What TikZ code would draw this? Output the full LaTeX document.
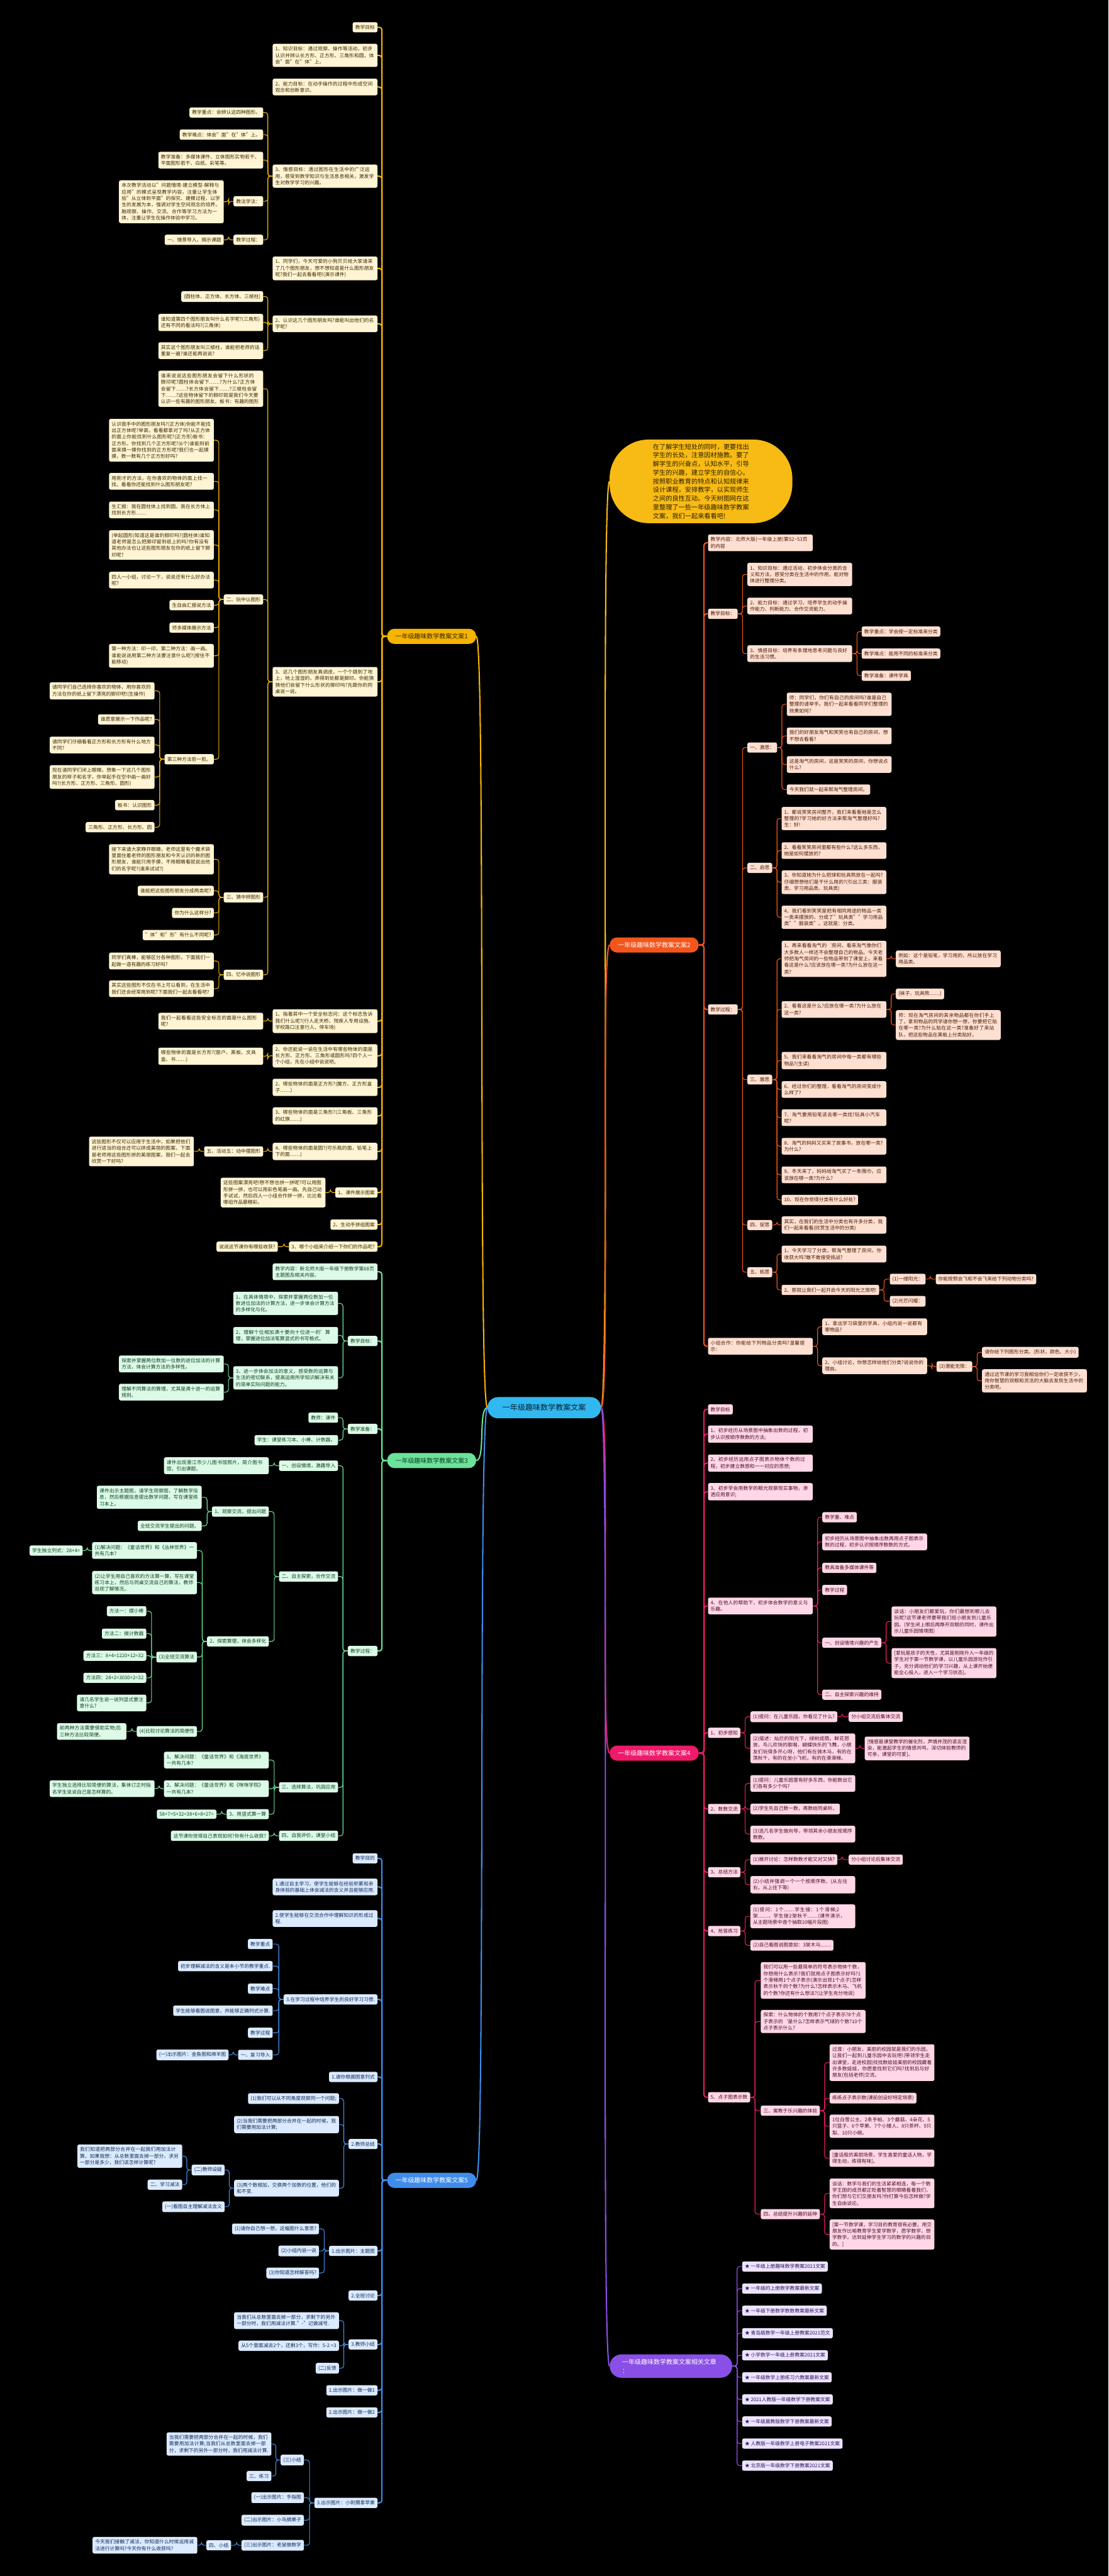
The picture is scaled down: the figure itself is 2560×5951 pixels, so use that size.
\documentclass[tikz,border=0pt]{standalone}
\usepackage{fontspec}
\setmainfont{Noto Sans CJK SC}
\newfontfamily\wmserif{Liberation Serif}
\XeTeXlinebreaklocale "zh"
\XeTeXlinebreakskip = 0pt plus 1pt
\newcommand\nfs{\fontsize{11.3}{15}\selectfont}
\newcommand\brfs{\fontsize{14.5}{20}\selectfont}
\newcommand\cfs{\fontsize{17.5}{22}\selectfont}
\newcommand\bubfs{\fontsize{14.8}{20}\selectfont}
\definecolor{yc}{HTML}{F5B400}\definecolor{yf}{HTML}{FFF4D4}\definecolor{yt}{HTML}{3A2800}
\definecolor{oc}{HTML}{F2561D}\definecolor{of}{HTML}{FEE0D2}\definecolor{ot}{HTML}{4A1A05}
\definecolor{gc}{HTML}{6BE39A}\definecolor{gf}{HTML}{DCFAE7}\definecolor{gt}{HTML}{0F4023}
\definecolor{pc}{HTML}{EE1A6A}\definecolor{pf}{HTML}{FFD7E6}\definecolor{pt}{HTML}{4A0C25}
\definecolor{uc}{HTML}{3F8CEB}\definecolor{uf}{HTML}{DBEAFE}\definecolor{ut}{HTML}{102A55}
\definecolor{vc}{HTML}{8A4FE6}\definecolor{vf}{HTML}{ECE3FC}\definecolor{vt}{HTML}{2E1460}
\definecolor{cf}{HTML}{32B8F0}\definecolor{ct}{HTML}{082433}
\definecolor{bub}{HTML}{F8BA14}\definecolor{bubt}{HTML}{2A1F00}
\tikzset{
 bxbase/.style={rounded corners=4pt, inner xsep=6pt, inner ysep=6.5pt, font=\nfs},
 bx/.style={bxbase},
 ml/.style={text width=230pt, align=left},
 lk/.style={line width=1.6pt, rounded corners=6pt},
 tk/.style={line width=3pt, rounded corners=6pt},
 brn/.style={rounded corners=17pt, minimum height=35pt, inner xsep=19pt, inner ysep=0pt, font=\brfs},
}
\newcommand\NL[4][]{\node[bx,anchor=east,#1] (#2) at (#3) {#4};}
\newcommand\NR[4][]{\node[bx,anchor=west,#1] (#2) at (#3) {#4};}
\newcommand\LK[2]{\foreach \kid in {#2}{\draw[lk] (#1.west) -- ++(-11,0) |- (\kid.east);}}
\newcommand\RK[2]{\foreach \kid in {#2}{\draw[lk] (#1.east) -- ++(11,0) |- (\kid.west);}}
\newcommand\LT[2]{\foreach \kid in {#2}{\draw[tk] (#1.west) -- ++(-12,0) |- (\kid.east);}}
\newcommand\RT[2]{\foreach \kid in {#2}{\draw[tk] (#1.east) -- ++(12,0) |- (\kid.west);}}
\begin{document}
\begin{tikzpicture}[x=1pt,y=-1pt]
\fill[black] (0,0) rectangle (2560,5951);
\useasboundingbox (0,0) rectangle (2560,5951);

% ---------- central and main branches
\node[rounded corners=24pt, fill=cf, text=ct, minimum height=49pt, minimum width=262pt, inner sep=0pt, font=\cfs] (C) at (1257,3252) {一年级趣味数学教案文案};
\node[fill=bub, text=bubt, rounded corners=90pt, minimum width=422pt, minimum height=193pt, inner sep=0pt, align=left, font=\bubfs] (I) at (1619,1112) {在了解学生短处的同时，更要找出\\学生的长处，注意因材施教。要了\\解学生的兴奋点，认知水平，引导\\学生的兴趣，建立学生的自信心。\\按照职业教育的特点和认知规律来\\设计课程，安排教学，以实现师生\\之间的良性互动。今天树图网在这\\里整理了一些一年级趣味数学教案\\文案，我们一起来看看吧!};
\node[brn, fill=yc, text=yt, anchor=west] (B1) at (894,1470) {一年级趣味数学教案文案1};
\node[brn, fill=oc, text=white, anchor=west] (B2) at (1408,2183) {一年级趣味数学教案文案2};
\node[brn, fill=gc, text=gt, anchor=west] (B3) at (894,3374) {一年级趣味数学教案文案3};
\node[brn, fill=pc, text=white, anchor=west] (B4) at (1408,4050) {一年级趣味数学教案文案4};
\node[brn, fill=uc, text=white, anchor=west] (B5) at (894,5037) {一年级趣味数学教案文案5};
\node[brn, fill=vc, text=white, anchor=west, rounded corners=27pt, minimum height=54pt, text width=225pt, inner xsep=29pt, align=left] (B6) at (1408,5466) {一年级趣味数学教案文案相关文章\\：};

\draw[line width=3pt, yc] (C.west) .. controls +(-22,0) and +(22,0) .. (B1.east);
\draw[line width=3pt, gc] (C.west) .. controls +(-22,0) and +(22,0) .. (B3.east);
\draw[line width=3pt, uc] (C.west) .. controls +(-22,0) and +(22,0) .. (B5.east);
\draw[line width=3pt, bub] (C.east) .. controls +(22,0) and +(-22,0) .. (I.west);
\draw[line width=3pt, oc] (C.east) .. controls +(22,0) and +(-22,0) .. (B2.west);
\draw[line width=3pt, pc] (C.east) .. controls +(22,0) and +(-22,0) .. (B4.west);
\draw[line width=3pt, vc] (C.east) .. controls +(22,0) and +(-22,0) .. (B6.west);

% ---------- branch 1 (yellow)
\begin{scope}[color=yc, bx/.style={bxbase, fill=yf, text=yt}]
\NL{A1}{872,63}{教学目标}
\NL[ml]{A2}{872,128}{1、知识目标：通过观察、操作等活动，初步认识并辨认长方形、正方形、三角形和圆，体会"面"在"体"上。}
\NL[ml]{A3}{872,201}{2、能力目标：在动手操作的过程中形成空间观念和创新意识。}
\NL[ml]{A4}{872,407}{3、情感目标：通过图形在生活中的广泛运用，感受到数学知识与生活息息相关，激发学生对数学学习的兴趣。}
\NL{A4a}{608,260}{教学重点：会辨认这四种图形。}
\NL{A4b}{608,311}{教学难点：体会"面"在"体"上。}
\NL[ml]{A4c}{608,370}{教学准备：多媒体课件、立体图形实物若干、平面图形若干、白纸、彩笔等。}
\NL{A4d}{608,465}{教法学法：}
\NL[ml]{A4d1}{517,466}{本次教学活动以"问题情境-建立模型-解释与应用"的模式呈现教学内容，注重让学生体验"从立体到平面"的探究、建模过程，以学生的发展为本，强调对学生空间观念的培养，融观察、操作、交流、合作等学习方法为一体，注重让学生在操作体验中学习。}
\NL{A4e}{608,554}{教学过程：}
\NL{A4e1}{517,554}{一、情景导入，揭示课题}
\NL[ml]{A5}{872,620}{1、同学们，今天可爱的小狗贝贝给大家请来了几个图形朋友，想不想知道是什么图形朋友呢?我们一起去看看吧!(演示课件)}
\NL[ml]{A6}{872,748}{2、认识这几个图形朋友吗?谁能叫出他们的名字呢?}
\NL{A6a}{608,685}{(圆柱体、正方体、长方体、三棱柱)}
\NL[ml]{A6b}{608,745}{谁知道第四个图形朋友叫什么名字呢?(三角形)还有不同的看法吗?(三角体)}
\NL[ml]{A6c}{608,810}{其实这个图形朋友叫三棱柱，谁能把老师的话重复一遍?谁还能再说说?}
\NL[ml]{A7}{872,1575}{3、这几个图形朋友真调皮，一个个跳到了地上，地上湿湿的，弄得到处都是脚印。你能猜猜他们会留下什么形状的脚印吗?先跟你的同桌说一说。}
\NL[ml]{A7a}{608,898}{谁来说说这些图形朋友会留下什么形状的脚印呢?圆柱体会留下……?为什么?正方体会留下……?长方体会留下……?三棱柱会留下……?这些物体留下的脚印就是我们今天要认识一些有趣的图形朋友。板书：有趣的图形}
\NL{A7b}{608,1385}{二、玩中认图形}
\NL[ml]{A7b1}{494,1017}{认识我手中的图形朋友吗?(正方体)你能不能找出正方体呢?举高，看看都拿对了吗?从正方体的面上你能找到什么图形呢?(正方形)板书：正方形。你找到几个正方形呢?(6个)谁能到前面来摸一摸你找到的正方形呢?我们也一起摸摸，数一数有几个正方形好吗?}
\NL[ml]{A7b2}{494,1112}{用刚才的方法，在你喜欢的物体的面上找一找，看看你还能找到什么图形朋友呢?}
\NL[ml]{A7b3}{494,1178}{生汇报：我在圆柱体上找到圆，我在长方体上找到长方形……}
\NL[ml]{A7b4}{494,1259}{(举起圆形)知道这是谁的脚印吗?(圆柱体)谁知道老师是怎么把脚印留到纸上的吗?你有没有其他办法也让这些图形朋友在你的纸上留下脚印呢?}
\NL[ml]{A7b5}{494,1340}{四人一小组，讨论一下，说说还有什么好办法呢?}
\NL{A7b6}{494,1398}{生自由汇报说方法}
\NL{A7b7}{494,1450}{师多媒体展示方法}
\NL[ml]{A7b8}{494,1515}{第一种方法：印一印，第二种方法：画一画。谁能说说用第二种方法要注意什么呢?(按住不能移动)}
\NL{A7b9}{494,1754}{第三种方法剪一剪。}
\NL[ml]{K1}{357,1596}{请同学们自己选择你喜欢的物体，用你喜欢的方法在你的纸上留下漂亮的脚印吧!(生操作)}
\NL{K2}{357,1662}{谁愿意展示一下作品呢?}
\NL[ml]{K3}{357,1721}{请同学们仔细看看正方形和长方形有什么地方不同?}
\NL[ml]{K4}{357,1795}{现在请同学们闭上眼睛，想象一下这几个图形朋友的样子和名字，你举起手在空中画一画好吗?(长方形、正方形、三角形、圆形)}
\NL{K5}{357,1860}{板书：认识图形}
\NL{K6}{357,1911}{三角形、正方形、长方形、圆}
\NL{A7c}{608,2073}{三、猜中辨图形}
\NL[ml]{A7c1}{494,1985}{接下来请大家睁开眼睛，老师这里有个魔术袋里面住着老师的图形朋友和今天认识的新的图形朋友，谁能只用手摸，不用眼睛看就说出他们的名字呢?(谁来试试?)}
\NL{A7c2}{494,2058}{谁能把这些图形朋友分成两类呢?}
\NL{A7c3}{494,2109}{你为什么这样分?}
\NL{A7c4}{494,2160}{"体"和"形"有什么不同呢?}
\NL{A7d}{608,2252}{四、忆中说图形}
\NL[ml]{A7d1}{494,2220}{同学们真棒，能够区分各种图形，下面我们一起做一道有趣的练习好吗?}
\NL[ml]{A7d2}{494,2284}{其实这些图形不仅在书上可以看到，在生活中我们还会经常用到呢?下面我们一起去看看吧?}
\NL[ml]{A8}{872,2359}{1、指着其中一个安全标志问：这个标志告诉我们什么呢?(行人走天桥、残疾人专用设施、学校路口注意行人、停车场)}
\NL[ml]{A8a}{608,2359}{我们一起看看这些安全标志的面是什么图形呢?}
\NL[ml]{A9}{872,2439}{2、你还能说一说在生活中有哪些物体的面是长方形、正方形、三角形或圆形吗?四个人一个小组，先在小组中说说吧。}
\NL[ml]{A9a}{608,2440}{哪些物体的面是长方形?(窗户、黑板、文具盒、书……)}
\NL[ml]{A10}{872,2512}{2、哪些物体的面是正方形?(魔方、正方形盒子……)}
\NL[ml]{A11}{872,2578}{3、哪些物体的面是三角形?(三角板、三角形的红旗……)}
\NL[ml]{A12}{872,2660}{4、哪些物体的面是圆?(可乐瓶的面，铅笔上下的面……)}
\NL{A12a}{608,2660}{五、活动五：动中摆图形}
\NL[ml]{A12a1}{448,2660}{这些图形不仅可以应用于生活中，如果把他们进行适当的组合还可以拼成美丽的图案，下面是老师用这些图形拼的美丽图案，我们一起去欣赏一下好吗?}
\NL{A13}{872,2755}{1、课件展示图案}
\NL[ml]{A13a}{752,2755}{这些图案漂亮吧!想不想也拼一拼呢?可以用图形拼一拼，也可以用彩色笔画一画。先自己动手试试，然后四人一小组合作拼一拼，比比看哪组作品最精彩。}
\NL{A14}{872,2829}{2、生动手拼组图案}
\NL{A15}{872,2880}{3、哪个小组来介绍一下你们的作品呢?}
\NL{A15a}{642,2880}{说说这节课你有哪些收获?}
\LT{B1}{A1,A2,A3,A4,A5,A6,A7,A8,A9,A10,A11,A12,A13,A14,A15}
\LK{A4}{A4a,A4b,A4c,A4d,A4e}
\LK{A4d}{A4d1}
\LK{A4e}{A4e1}
\LK{A6}{A6a,A6b,A6c}
\LK{A7}{A7a,A7b,A7c,A7d}
\LK{A7b}{A7b1,A7b2,A7b3,A7b4,A7b5,A7b6,A7b7,A7b8,A7b9}
\LK{A7b9}{K1,K2,K3,K4,K5,K6}
\LK{A7c}{A7c1,A7c2,A7c3,A7c4}
\LK{A7d}{A7d1,A7d2}
\LK{A8}{A8a}
\LK{A9}{A9a}
\LK{A12}{A12a}
\LK{A12a}{A12a1}
\LK{A13}{A13a}
\LK{A15}{A15a}
\end{scope}

% ---------- branch 3 (green)
\begin{scope}[color=gc, bx/.style={bxbase, fill=gf, text=gt}]
\NL[ml]{G1}{872,2938}{教学内容：新北师大版一年级下册数学第68页主题图及相关内容。}
\NL{G2}{872,3098}{教学目标：}
\NL[ml]{G2a}{781,3011}{1、在具体情境中，探索并掌握两位数加一位数进位加法的计算方法，进一步体会计算方法的多样化与化。}
\NL[ml]{G2b}{781,3085}{2、理解个位相加满十要向十位进一的'算理，掌握进位加法笔算竖式的书写格式。}
\NL[ml]{G2c}{781,3183}{3、进一步体会加法的意义，感受数的运算与生活的密切联系，提高运用所学知识解决有关的简单实际问题的能力。}
\NL[ml]{G2c1}{517,3151}{探索并掌握两位数加一位数的进位加法的计算方法，体会计算方法的多样性。}
\NL[ml]{G2c2}{517,3216}{理解不同算法的算理，尤其是满十进一的运算规则。}
\NL{G3}{872,3301}{教学准备：}
\NL{G3a}{781,3275}{教师：课件}
\NL{G3b}{781,3327}{学生：课堂练习本、小棒、计数器。}
\NL{G4}{872,3814}{教学过程：}
\NL{G4a}{781,3386}{一、创设情境，激趣导入}
\NL[ml]{G4a1}{621,3386}{课件出现晋江市少儿图书馆照片，简介图书馆，引出课题。}
\NL{G4b}{781,3642}{二、自主探索，合作交流}
\NL{G4b1}{621,3492}{1、观察交流，提出问题}
\NL[ml]{G4b1a}{466,3459}{课件出示主题图，请学生观察图，了解数学信息，然后根据信息提出数学问题，写在课堂练习本上。}
\NL{G4b1b}{466,3525}{全班交流学生提出的问题。}
\NL{G4b2}{621,3792}{2、探索算理，体会多样化}
\NL[ml]{G4b2a}{455,3582}{(1)解决问题：《童话世界》和《丛林世界》一共有几本?}
\NL{G4b2a1}{191,3582}{学生独立列式：28+4=}
\NL[ml]{G4b2b}{455,3656}{(2)让学生用自己喜欢的方法算一算，写在课堂练习本上，然后与同桌交流自己的算法，教师巡视了解情况。}
\NL{G4b2c}{455,3828}{(3)全班交流算法}
\NL{M1}{338,3722}{方法一：摆小棒}
\NL{M2}{338,3774}{方法二：拨计数器}
\NL{M3}{338,3825}{方法三：8+4=1220+12=32}
\NL{M4}{338,3876}{方法四：28+2=3030+2=32}
\NL[text width=148pt,align=left]{M5}{338,3934}{请几名学生说一说列竖式要注意什么?}
\NL{G4b2d}{455,4000}{(4)比较讨论算法的简便性}
\NL[text width=148pt,align=left]{G4b2d1}{292,4000}{前两种方法需要借助实物;后三种方法比较简便。}
\NL{G4c}{781,4129}{三、选择算法，巩固应用}
\NL[ml]{G4c1}{621,4066}{1、解决问题：《童话世界》和《海底世界》一共有几本?}
\NL[ml]{G4c2}{621,4132}{2、解决问题：《童话世界》和《咪咪学院》一共有几本?}
\NL[ml]{G4c2a}{357,4132}{学生独立选择比较简便的算法，集体订正时指名学生说说自己是怎样算的。}
\NL{G4c3}{621,4191}{3、用竖式算一算}
\NL{G4c3a}{500,4191}{58+7=5+32=38+6=8+27=}
\NL{G4d}{781,4241}{四、自我评价，课堂小结}
\NL{G4d1}{621,4241}{这节课你觉得自己表现如何?你有什么收获?}
\LT{B3}{G1,G2,G3,G4}
\LK{G2}{G2a,G2b,G2c}
\LK{G2c}{G2c1,G2c2}
\LK{G3}{G3a,G3b}
\LK{G4}{G4a,G4b,G4c,G4d}
\LK{G4a}{G4a1}
\LK{G4b}{G4b1,G4b2}
\LK{G4b1}{G4b1a,G4b1b}
\LK{G4b2}{G4b2a,G4b2b,G4b2c,G4b2d}
\LK{G4b2a}{G4b2a1}
\LK{G4b2c}{M1,M2,M3,M4,M5}
\LK{G4b2d}{G4b2d1}
\LK{G4c}{G4c1,G4c2,G4c3}
\LK{G4c2}{G4c2a}
\LK{G4c3}{G4c3a}
\LK{G4d}{G4d1}
\end{scope}

% ---------- branch 5 (blue)
\begin{scope}[color=uc, bx/.style={bxbase, fill=uf, text=ut}]
\NL{U1}{872,4293}{教学目的}
\NL[ml]{U2}{872,4359}{1.通过自主学习，使学生能够在经验积累和亲身体验的基础上体会减法的含义并且能够应用.}
\NL[ml]{U3}{872,4432}{2.使学生能够在交流合作中理解知识的形成过程.}
\NL{U4}{872,4619}{3.在学习过程中培养学生的良好学习习惯.}
\NL{U4a}{630,4491}{教学重点}
\NL{U4b}{630,4542}{初步理解减法的含义是本小节的教学重点.}
\NL{U4c}{630,4594}{教学难点}
\NL{U4d}{630,4645}{学生能够看图说图意，并能够正确列式计算.}
\NL{U4e}{630,4696}{教学过程}
\NL{U4f}{630,4747}{一、复习导入}
\NL{U4f1}{528,4747}{(一)出示图片：金鱼图和绵羊图}
\NL{U5}{872,4798}{1.请你根据图意列式}
\NL{U6}{872,4953}{2.教师总结}
\NL{U6a}{783,4848}{(1)我们可以从不同角度观察同一个问题;}
\NL[ml]{U6b}{783,4908}{(2)当我们需要把两部分合并在一起的时候，我们需要用加法计算;}
\NL[ml]{U6c}{783,5055}{(3)两个数相加，交换两个加数的位置，他们的和不变.}
\NL{U6c1}{519,5013}{(二)教师设疑}
\NL[ml]{U6c1a}{421,4981}{我们知道把两部分合并在一起我们用加法计算，如果我想：从总数里面去掉一部分，求另一部分是多少，我们该怎样计算呢?}
\NL{U6c1b}{421,5047}{二、学习减法}
\NL{U6c2}{519,5098}{(一)看图自主理解减法含义}
\NL{U7}{872,5200}{1.出示图片：主题图}
\NL{U7a}{737,5149}{(1)请你自己想一想，这幅图什么意思?}
\NL{U7b}{737,5200}{(2)小组内说一说}
\NL{U7c}{737,5251}{(3)你知道怎样解答吗?}
\NL{U8}{872,5303}{2.全班讨论}
\NL{U9}{872,5416}{3.教师小结}
\NL[ml]{U9a}{783,5361}{当我们从总数里面去掉一部分，求剩下的另外一部分时，我们用减法计算."-"记做减号.}
\NL{U9b}{783,5419}{从5个里面减去2个，还剩3个，写作：5-2 =3}
\NL{U9c}{783,5471}{(二)反馈}
\NL{U10}{872,5522}{1.出示图片：做一做1}
\NL{U11}{872,5573}{2.出示图片：做一做2}
\NL{U12}{872,5782}{3.出示图片：小刺猬拿苹果}
\NL{U12a}{702,5683}{(三)小结}
\NL[ml]{U12a1}{627,5646}{当我们需要把两部分合并在一起的时候，我们需要用加法计算;当我们从总数里面去掉一部分，求剩下的另外一部分时，我们用减法计算.}
\NL{U12a2}{627,5720}{三、练习}
\NL{U12b}{702,5770}{(一)出示图片：手指图}
\NL{U12c}{702,5822}{(二)出示图片：小鸟摘果子}
\NL{U12d}{702,5880}{(三)出示图片：老鼠做数学}
\NL{U12d1}{534,5880}{四、小结}
\NL[ml]{U12d1a}{456,5880}{今天我们接触了减法，你知道什么时候运用减法进行计算吗?今天你有什么收获吗?}
\LT{B5}{U1,U2,U3,U4,U5,U6,U7,U8,U9,U10,U11,U12}
\LK{U4}{U4a,U4b,U4c,U4d,U4e,U4f}
\LK{U4f}{U4f1}
\LK{U6}{U6a,U6b,U6c}
\LK{U6c}{U6c1,U6c2}
\LK{U6c1}{U6c1a,U6c1b}
\LK{U7}{U7a,U7b,U7c}
\LK{U9}{U9a,U9b,U9c}
\LK{U12}{U12a,U12b,U12c,U12d}
\LK{U12a}{U12a1,U12a2}
\LK{U12d}{U12d1}
\LK{U12d1}{U12d1a}
\end{scope}

% ---------- branch 2 (orange)
\begin{scope}[color=oc, bx/.style={bxbase, fill=of, text=ot}]
\NR[ml]{O1}{1635,1254}{教学内容：北师大版(一年级上册)第52\textasciitilde53页的内容}
\NR{O2}{1635,1418}{教学目标：}
\NR[ml]{O2a}{1726,1327}{1、知识目标：通过活动，初步体会分类的含义和方法，感受分类在生活中的作用，能对物体进行整理分类。}
\NR[ml]{O2b}{1726,1400}{2、能力目标：通过学习，培养学生的动手操作能力、判断能力、合作交流能力。}
\NR[ml]{O2c}{1726,1510}{3、情感目标：培养有条理地思考问题与良好的生活习惯。}
\NR{O2c1}{1990,1459}{教学重点：学会按一定标准来分类}
\NR{O2c2}{1990,1510}{教学难点：能用不同的标准来分类}
\NR{O2c3}{1990,1561}{教学准备：课件学具}
\NR{O3}{1635,2332}{教学过程：}
\NR{O3a}{1726,1727}{一、激思：}
\NR[ml]{O3a1}{1817,1627}{师：同学们，你们有自己的房间吗?谁是自己整理的请举手。我们一起来看看同学们整理的效果如何?}
\NR[ml]{O3a2}{1817,1700}{我们的好朋友淘气和笑笑也有自己的房间，想不想去看看?}
\NR[ml]{O3a3}{1817,1766}{这是淘气的房间，这是笑笑的房间，你想说点什么?}
\NR{O3a4}{1817,1824}{今天我们就一起来帮淘气整理房间。}
\NR{O3b}{1726,2005}{二、启思}
\NR[ml]{O3b1}{1805,1891}{1、都说笑笑房间整齐，我们来看看她是怎么整理的?学习她的好方法来帮淘气整理好吗?生：好!}
\NR[ml]{O3b2}{1805,1965}{2、看看笑笑房间里都有些什么?这么多东西，她是如何摆放的?}
\NR[ml]{O3b3}{1805,2038}{3、你知道她为什么把球和玩具熊放在一起吗?仔细想想他们是干什么用的?(引出三类：服装类、学习用品类、玩具类)}
\NR[ml]{O3b4}{1805,2119}{4、我们看到笑笑是把有相同用途的物品一类一类来摆放的，分成了"玩具类""学习用品类""服装类"。这就是：分类。}
\NR{O3c}{1726,2494}{三、展思}
\NR[ml]{O3c1}{1805,2215}{1、再来看看淘气的`房间，看来淘气像你们大多数人一样还不会整理自己的物品。今天老师把淘气房间的一些物品带到了课堂上，来看看这是什么?应该放在哪一类?为什么放在这一类?}
\NR[ml]{O3c1a}{2069,2215}{例如：这个是铅笔，学习用的，所以放在学习用品类。}
\NR[ml]{O3c2}{1805,2332}{2、看看这是什么?应放在哪一类?为什么放在这一类?}
\NR{O3c2a}{2069,2296}{(袜子、玩具熊……)}
\NR[ml]{O3c2b}{2069,2368}{师：现在淘气房间的其余物品都在你们手上了，拿到物品的同学请你想一想，你要把它贴在哪一类?为什么贴在这一类?准备好了来站队，把这些物品在黑板上分类贴好。}
\NR[ml]{O3c3}{1805,2450}{5、我们来看看淘气的房间中每一类都有哪些物品?(生读)}
\NR[ml]{O3c4}{1805,2517}{6、经过你们的整理，看看淘气的房间变成什么样了?}
\NR[ml]{O3c5}{1805,2582}{7、淘气要用铅笔该去哪一类找?玩具小汽车呢?}
\NR[ml]{O3c6}{1805,2648}{8、淘气的妈妈又买来了故事书，放在哪一类?为什么?}
\NR[ml]{O3c7}{1805,2714}{9、冬天来了，妈妈给淘气买了一条围巾，应该放在哪一类?为什么?}
\NR{O3c8}{1805,2772}{10、现在你觉得分类有什么好处?}
\NR{O3d}{1726,2830}{四、促思}
\NR[ml]{O3d1}{1805,2830}{其实，在我们的生活中分类也有许多分类，我们一起来看看(欣赏生活中的分类)}
\NR{O3e}{1726,2939}{五、拓思}
\NR[ml]{O3e1}{1805,2897}{1、今天学习了分类，帮淘气整理了房间，你收获大吗?敢不敢接受挑战?}
\NR{O3e2}{1805,2980}{2、那就让我们一起开启今天的阳光之旅吧!}
\NR{O3e2a}{2055,2955}{(1)一缕阳光：}
\NR{O3e2a1}{2161,2955}{你能按照会飞和不会飞来给下列动物分类吗?}
\NR{O3e2b}{2055,3006}{(2)光芒闪耀：}
\NR[ml]{O4}{1635,3110}{小组合作：你能给下列物品分类吗?温馨提示：}
\NR[ml]{O4a}{1899,3065}{1、拿出学习袋里的学具，小组内说一说都有哪物品?}
\NR[ml]{O4b}{1899,3155}{2、小组讨论，你想怎样给他们分类?说说你的理由。}
\NR{O4b1}{2163,3157}{(3)潜能无限：}
\NR{O4b1a}{2268,3124}{请你给下列图形分类。(形状，颜色、大小)}
\NR[ml]{O4b1b}{2268,3190}{通过这节课的学习我相信你们一定收获不少，用你智慧的双眼和灵活的大脑去发现生活中的分类吧。}
\RT{B2}{O1,O2,O3,O4}
\RK{O2}{O2a,O2b,O2c}
\RK{O2c}{O2c1,O2c2,O2c3}
\RK{O3}{O3a,O3b,O3c,O3d,O3e}
\RK{O3a}{O3a1,O3a2,O3a3,O3a4}
\RK{O3b}{O3b1,O3b2,O3b3,O3b4}
\RK{O3c}{O3c1,O3c2,O3c3,O3c4,O3c5,O3c6,O3c7,O3c8}
\RK{O3c1}{O3c1a}
\RK{O3c2}{O3c2a,O3c2b}
\RK{O3d}{O3d1}
\RK{O3e}{O3e1,O3e2}
\RK{O3e2}{O3e2a,O3e2b}
\RK{O3e2a}{O3e2a1}
\RK{O4}{O4a,O4b}
\RK{O4b}{O4b1}
\RK{O4b1}{O4b1a,O4b1b}
\end{scope}

% ---------- branch 4 (pink)
\begin{scope}[color=pc, bx/.style={bxbase, fill=pf, text=pt}]
\NR{P1}{1635,3256}{教学目标}
\NR[ml]{P2}{1635,3313}{1、初步经历从场景图中抽象出数的过程，初步认识按顺序数数的方法;}
\NR[ml]{P3}{1635,3380}{2、初步经历运用点子图表示物体个数的过程，初步建立数感和一一对应的思想;}
\NR[ml]{P4}{1635,3446}{3、初步学会用数学的眼光观察现实事物，渗透应用意识;}
\NR[ml]{P5}{1635,3710}{4、在他人的帮助下，初步体会数学的意义与乐趣。}
\NR{P5a}{1899,3505}{教学重、难点}
\NR[ml]{P5b}{1899,3562}{初步经历从场景图中抽象出数再用点子图表示数的过程，初步认识按顺序数数的方式。}
\NR{P5c}{1899,3622}{教具准备多媒体课件等}
\NR{P5d}{1899,3673}{教学过程}
\NR{P5e}{1899,3795}{一、创设情境兴趣的产生}
\NR[ml]{P5e1}{2059,3746}{谈话：小朋友们都爱玩，你们最想到哪儿去玩呢?这节课老师要带我们班小朋友到儿童乐园。(学生闭上眼后再睁开双眼的同时，课件出示儿童乐园情境图)}
\NR[ml]{P5e2}{2059,3842}{[爱玩是孩子的天性，尤其是刚刚升入一年级的学生对于第一节数学课，以儿童乐园游玩作引子，充分调动他们的学习兴趣，从上课开始便能全心投入，进入一个学习状态]。}
\NR{P5f}{1899,3915}{二、自主探索兴趣的维持}
\NR{P6}{1635,4003}{1、初步感知}
\NR{P6a}{1733,3966}{(1)提问：在儿童乐园，你看见了什么?}
\NR{P6a1}{1960,3966}{分小组交流后集体交流}
\NR[ml]{P6b}{1733,4039}{(2)描述：灿烂的阳光下，绿树成荫，鲜花怒放，鸟儿欢快的歌唱，蝴蝶快乐的飞舞，小朋友们玩得多开心呀，他们有在骑木马，有的在荡秋千，有的在坐小飞机，有的在滑滑梯。}
\NR[ml]{P6b1}{1997,4039}{[情感是课堂教学的催化剂，声情并茂的语言渲染，能激起学生的情感共鸣，深切体验教师的可亲，课堂的可爱]。}
\NR{P7}{1635,4179}{2、数数交流}
\NR[ml]{P7a}{1733,4120}{(1)提问：儿童乐园里有好多东西，你能数出它们各有多少个吗?}
\NR{P7b}{1733,4179}{(2)学生先自己数一数，再数给同桌听。}
\NR[ml]{P7c}{1733,4237}{(3)选几名学生做向导，带领其余小朋友按顺序数数。}
\NR{P8}{1635,4325}{3、总结方法}
\NR{P8a}{1733,4296}{(1)展开讨论：怎样数数才能又对又快?}
\NR{P8a1}{1960,4296}{分小组讨论后集体交流}
\NR[ml]{P8b}{1733,4354}{(2)小结并强调一个一个按顺序数。(从左往右，从上往下等)}
\NR{P9}{1635,4461}{4、抢答练习}
\NR[ml]{P9a}{1733,4427}{(1)提问：1个……学生接：1个滑梯;2架……，学生接2架秋千……(课件演示，从主题场景中逐个抽取10幅片段图)}
\NR{P9b}{1733,4494}{(2)自己看图说图意如：3架木马……}
\NR{P10}{1635,4845}{5、点子图表示数}
\NR[ml]{P10a}{1757,4575}{我们可以用一些最简单的符号表示物体个数，你想用什么表示?我们就用点子图表示好吗?1个滑梯用1个点子表示(演示出现1个点子)怎样表示秋千的个数?为什么?怎样表示木马、飞机的个数?你还有什么想法?(让学生充分地说)}
\NR[ml]{P10b}{1757,4670}{探索：什么物体的个数用7个点子表示?8个点子表示的`是什么?怎样表示气球的个数?10个点子表示什么?}
\NR{P10c}{1757,4876}{三、寓教于乐兴趣的体验}
\NR[ml]{P10c1}{1916,4765}{过渡：小朋友，美丽的校园就是我们的乐园，让我们一起到儿童乐园中去玩吧!(带领学生走出课堂，走进校园)找找数娃娃美丽的校园藏着许多数娃娃，你愿意找到它们吗?找到后与好朋友(包括老师)交流。}
\NR{P10c2}{1916,4847}{练练点子表示数(课前创设好特定场景)}
\NR[ml]{P10c3}{1916,4912}{1位白雪公主、2条手帕、3个蘑菇、4朵花、5只篮子、6个苹果、7个小矮人、8只茶杯、9只梨、10只小碗。}
\NR[ml]{P10c4}{1916,4986}{[童话般的美丽场景，学生喜爱的童话人物，学得生动，练得有味]。}
\NR{P10d}{1757,5115}{四、总结提升兴趣的延伸}
\NR[ml]{P10d1}{1916,5067}{谈话：数学与我们的生活紧紧相连，每一个数学王国的成员都正眨着智慧的眼睛看着我们，你们想与它们交朋友吗?你打算今后怎样做?学生自由谈论。}
\NR[ml]{P10d2}{1916,5162}{[第一节数学课，学习目的教育很有必要。用交朋友作比喻教育学生爱学数学，愿学数学，想学数学。达到延伸学生学习的数学的兴趣的目的。]}
\RT{B4}{P1,P2,P3,P4,P5,P6,P7,P8,P9,P10}
\RK{P5}{P5a,P5b,P5c,P5d,P5e,P5f}
\RK{P5e}{P5e1,P5e2}
\RK{P6}{P6a,P6b}
\RK{P6a}{P6a1}
\RK{P6b}{P6b1}
\RK{P7}{P7a,P7b,P7c}
\RK{P8}{P8a,P8b}
\RK{P8a}{P8a1}
\RK{P9}{P9a,P9b}
\RK{P10}{P10a,P10b,P10c,P10d}
\RK{P10c}{P10c1,P10c2,P10c3,P10c4}
\RK{P10d}{P10d1,P10d2}
\end{scope}

% ---------- branch 6 (purple)
\begin{scope}[color=vc, bx/.style={bxbase, fill=vf, text=vt}]
\NR{R1}{1714,5236}{★ 一年级上册趣味数学教案2021文案}
\NR{R2}{1714,5287}{★ 一年级的上册数学教案最新文案}
\NR{R3}{1714,5338}{★ 一年级下册数学数数教案最新文案}
\NR{R4}{1714,5390}{★ 青岛版数学一年级上册教案2021范文}
\NR{R5}{1714,5441}{★ 小学数学一年级上册教案2021文案}
\NR{R6}{1714,5492}{★ 一年级数学上册练习六教案最新文案}
\NR{R7}{1714,5543}{★ 2021人教版一年级数学下册教案文案}
\NR{R8}{1714,5594}{★ 一年级冀教版数学下册教案最新文案}
\NR{R9}{1714,5645}{★ 人教版一年级数学上册电子教案2021文案}
\NR{R10}{1714,5696}{★ 北京版一年级数学下册教案2021文案}
\RK{B6}{R1,R2,R3,R4,R5,R6,R7,R8,R9,R10}
\end{scope}
\end{tikzpicture}
\end{document}
